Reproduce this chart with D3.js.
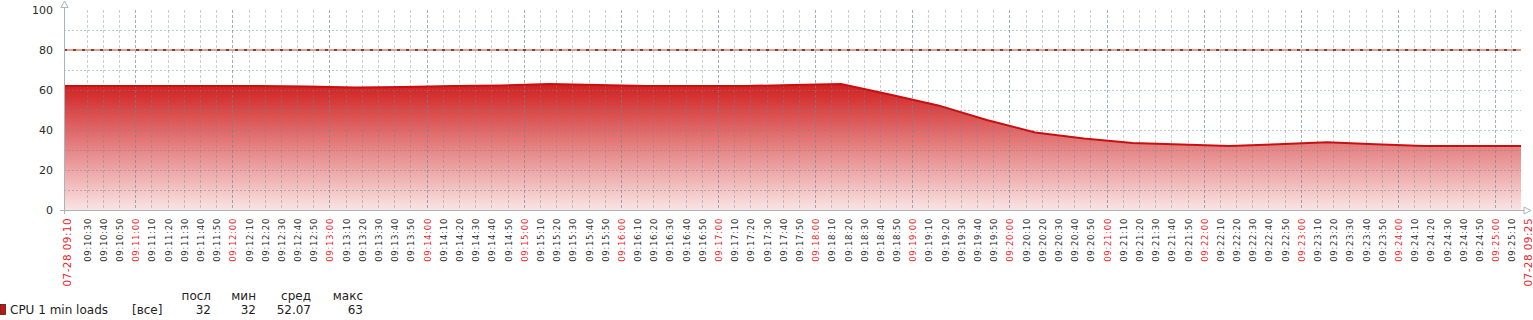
<!DOCTYPE html>
<html>
<head>
<meta charset="utf-8">
<script src="https://cdn.jsdelivr.net/npm/d3@7"></script>
<style>
  body { margin: 0; background: #fff; }
  svg { display: block; font-family: "DejaVu Sans", sans-serif; }
</style>
</head>
<body>
<div id="chart"></div>
<script>
// samples, one every 30 s
const times = [
  '09:10:16', '09:10:46', '09:11:16', '09:11:46', '09:12:16', '09:12:46',
  '09:13:16', '09:13:46', '09:14:16', '09:14:46', '09:15:16', '09:15:46',
  '09:16:16', '09:16:46', '09:17:16', '09:17:46', '09:18:16', '09:18:46',
  '09:19:16', '09:19:46', '09:20:16', '09:20:46', '09:21:16', '09:21:46',
  '09:22:16', '09:22:46', '09:23:16', '09:23:46', '09:24:16', '09:24:46',
  '09:25:16'
];
const loads = [
  62, 62, 62, 62, 62, 61.7, 61.3, 61.5, 62, 62.3, 63, 62.5,
  62, 62, 62, 62.5, 63, 57.8, 52.3, 45, 38.8, 35.8, 33.5, 32.7,
  32, 32.9, 33.9, 32.9, 32, 32, 32
];

const periodStart = '09:10:16';
const periodEnd = '09:25:16';
const startLabel = '07-28 09:10';
const endLabel = '07-28 09:25';
const yTicks = [0, 20, 40, 60, 80, 100];
const yGrid = [10, 20, 30, 40, 50, 60, 70, 90];
const threshold = 80;

const seriesName = 'CPU 1 min loads';
const seriesFunc = '[все]';
const legendHeaders = ['посл', 'мин', 'сред', 'макс'];
const legendValues = ['32', '32', '52.07', '63'];

const width = 1533;
const height = 320;
const margin = { left: 64, right: 12, top: 10, bottom: 110 };

const parse = d3.timeParse('%H:%M:%S');
const t0 = parse(periodStart);
const t1 = parse(periodEnd);

const data = times.map((t, i) => ({ t: parse(t), v: loads[i] }));

const x = d3.scaleTime()
  .domain([t0, t1])
  .range([margin.left, width - margin.right]);
const y = d3.scaleLinear()
  .domain([0, 100])
  .range([height - margin.bottom, margin.top]);

const svg = d3.select('#chart').append('svg')
  .attr('width', width)
  .attr('height', height);

const defs = svg.append('defs');
const grad = defs.append('linearGradient')
  .attr('id', 'fillGrad')
  .attr('gradientUnits', 'userSpaceOnUse')
  .attr('x1', 0).attr('x2', 0)
  .attr('y1', y(63)).attr('y2', y(0));
grad.append('stop').attr('offset', 0).attr('stop-color', '#d01f1f');
grad.append('stop').attr('offset', 1).attr('stop-color', '#fae4e4');

// filled area + line
const area = d3.area()
  .x(d => x(d.t))
  .y0(y(0))
  .y1(d => y(d.v));
const line = d3.line()
  .x(d => x(d.t))
  .y(d => y(d.v));

svg.append('path')
  .datum(data)
  .attr('d', area)
  .attr('fill', 'url(#fillGrad)');

// grid
const ticks = x.ticks(d3.timeSecond.every(10))
  .filter(d => d - t0 >= 10000 && t1 - d >= 5000);

const grid = svg.append('g').attr('shape-rendering', 'crispEdges');
grid.selectAll('line.vgrid')
  .data(ticks)
  .enter()
  .append('line')
    .attr('class', 'vgrid')
    .attr('x1', d => Math.round(x(d)) + 0.5)
    .attr('x2', d => Math.round(x(d)) + 0.5)
    .attr('y1', y(100))
    .attr('y2', y(0))
    .attr('stroke', '#6f8494')
    .attr('stroke-opacity', d => d.getSeconds() === 0 ? 0.65 : 0.38)
    .attr('stroke-dasharray', '3,2');

grid.selectAll('line.hgrid')
  .data(yGrid)
  .enter()
  .append('line')
    .attr('class', 'hgrid')
    .attr('x1', x.range()[0])
    .attr('x2', x.range()[1])
    .attr('y1', d => Math.round(y(d)) + 0.5)
    .attr('y2', d => Math.round(y(d)) + 0.5)
    .attr('stroke', '#6f8494')
    .attr('stroke-opacity', 0.45)
    .attr('stroke-dasharray', '2,2');

svg.append('path')
  .datum(data)
  .attr('d', line)
  .attr('fill', 'none')
  .attr('stroke', '#c81010')
  .attr('stroke-width', 2);

// threshold
svg.append('line')
  .attr('x1', x.range()[0]).attr('x2', x.range()[1])
  .attr('y1', y(threshold)).attr('y2', y(threshold))
  .attr('stroke', '#ee9a88')
  .attr('stroke-width', 2);
svg.append('line')
  .attr('x1', x.range()[0]).attr('x2', x.range()[1])
  .attr('y1', y(threshold)).attr('y2', y(threshold))
  .attr('stroke', '#704848')
  .attr('stroke-width', 2)
  .attr('stroke-dasharray', '3,6');

// axes
const axisColor = '#a9b4bd';
const axes = svg.append('g').attr('shape-rendering', 'crispEdges');
axes.append('line')
  .attr('x1', margin.left + 0.5).attr('x2', margin.left + 0.5)
  .attr('y1', y(0) + 4).attr('y2', 3)
  .attr('stroke', axisColor);
axes.append('line')
  .attr('x1', margin.left - 4).attr('x2', width - 7)
  .attr('y1', y(0) + 0.5).attr('y2', y(0) + 0.5)
  .attr('stroke', axisColor);
svg.append('path')
  .attr('d', `M${margin.left + 0.5},1 L${margin.left - 3},7.5 L${margin.left + 4},7.5 Z`)
  .attr('fill', '#fff')
  .attr('stroke', axisColor);
svg.append('path')
  .attr('d', `M${width - 2},${y(0) + 0.5} L${width - 9},${y(0) - 3} L${width - 9},${y(0) + 4} Z`)
  .attr('fill', '#fff')
  .attr('stroke', axisColor);

// y labels
svg.append('g')
  .selectAll('text')
  .data(yTicks)
  .enter()
  .append('text')
    .attr('x', 53)
    .attr('y', d => y(d))
    .attr('dy', '0.36em')
    .attr('text-anchor', 'end')
    .attr('font-size', 11)
    .attr('fill', '#2b2b2b')
    .text(d => d);

// x labels
const fmt = d3.timeFormat('%H:%M:%S');
const xLabels = ticks.map(d => ({
  pos: Math.round(x(d)) + 4,
  text: fmt(d),
  red: d.getSeconds() === 0,
  size: 8.5
}));
xLabels.unshift({ pos: x(t0) + 7, text: startLabel, red: true, size: 10.5 });
xLabels.push({ pos: width - 1, text: endLabel, red: true, size: 10.5 });

svg.append('g')
  .selectAll('text')
  .data(xLabels)
  .enter()
  .append('text')
    .attr('transform', d => `translate(${d.pos},218) rotate(-90)`)
    .attr('text-anchor', 'end')
    .attr('font-size', d => d.size)
    .attr('letter-spacing', d => d.size < 10 ? 0.7 : 0.4)
    .attr('fill', d => d.red ? '#e8282a' : '#2b2b2b')
    .text(d => d.text);

// legend
const legend = svg.append('g')
  .attr('font-size', 12)
  .attr('fill', '#1f2326');
legend.append('rect')
  .attr('x', 0.5).attr('y', 304.5)
  .attr('width', 5).attr('height', 10)
  .attr('fill', '#cc1111')
  .attr('stroke', '#4a1a1a')
  .attr('stroke-width', 0.8);
legend.append('text').attr('x', 10).attr('y', 314).text(seriesName);
legend.append('text').attr('x', 132).attr('y', 314).text(seriesFunc);

const colRight = [211, 256, 311, 363];
legend.selectAll('text.hdr')
  .data(legendHeaders)
  .enter()
  .append('text')
    .attr('class', 'hdr')
    .attr('x', (d, i) => colRight[i])
    .attr('y', 300)
    .attr('text-anchor', 'end')
    .text(d => d);
legend.selectAll('text.val')
  .data(legendValues)
  .enter()
  .append('text')
    .attr('class', 'val')
    .attr('x', (d, i) => colRight[i])
    .attr('y', 314)
    .attr('text-anchor', 'end')
    .text(d => d);
</script>
</body>
</html>
